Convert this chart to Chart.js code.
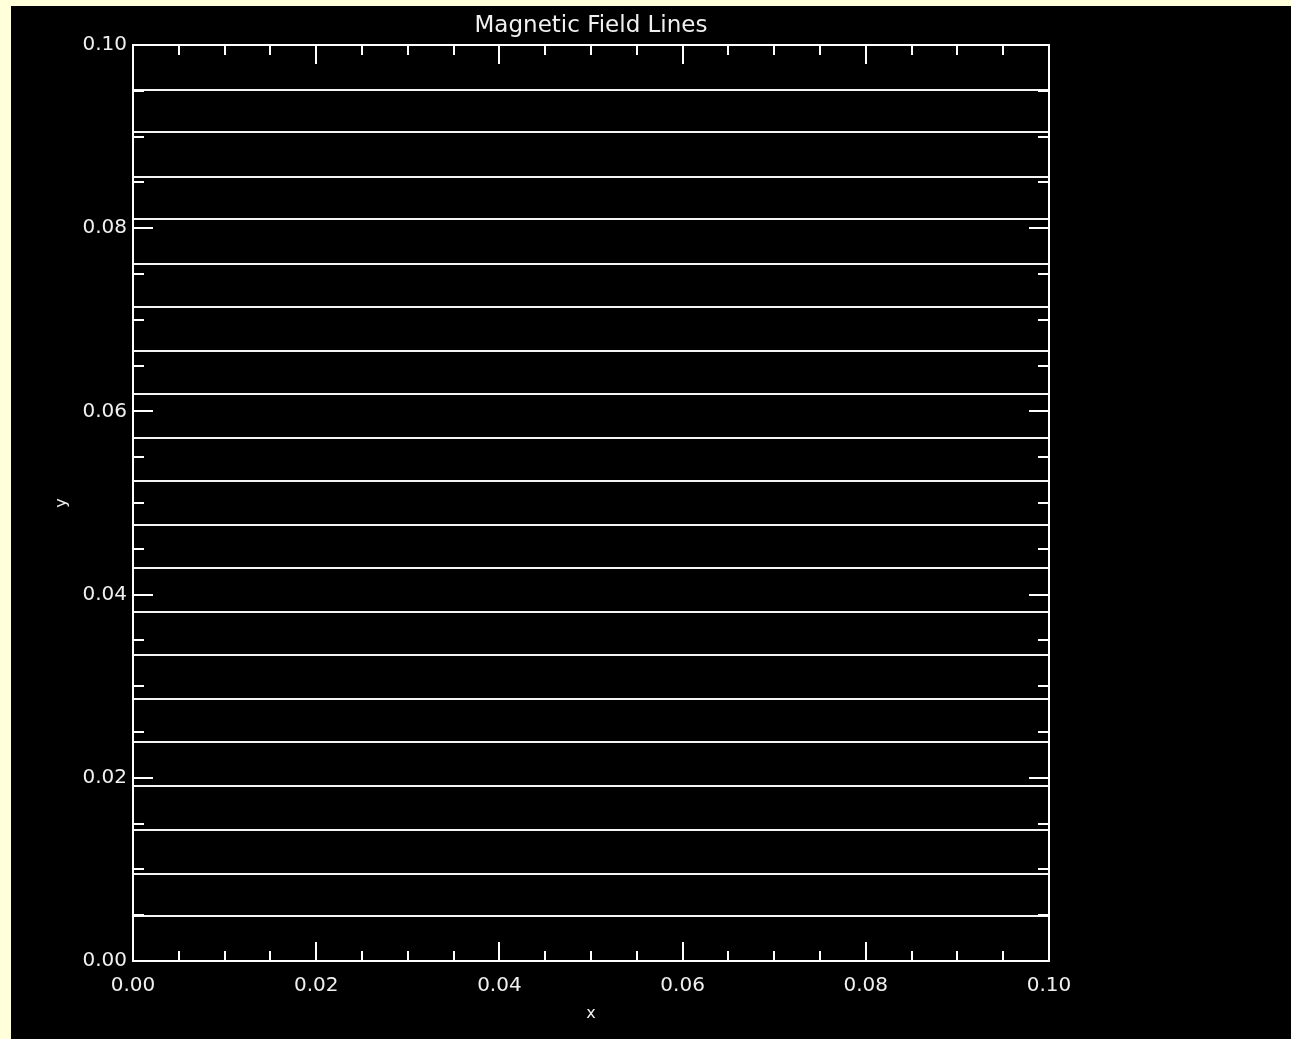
<!DOCTYPE html>
<html>
<head>
<meta charset="utf-8">
<title>Magnetic Field Lines</title>
<script src="https://cdn.jsdelivr.net/npm/chart.js@4.4.1/dist/chart.umd.min.js"></script>
<style>
  html, body { margin: 0; padding: 0; background: #ffffdc; overflow: hidden; }
  #wrap { position: absolute; left: 11px; top: 6px; width: 1280px; height: 1033px; background: #000; }
</style>
</head>
<body>
<div id="wrap"><canvas id="chart"></canvas></div>
<script>
// field line heights (y), each runs across the full x range
const fieldLineY = [
    0.0049, 0.0095, 0.0143, 0.0191, 0.0239, 0.0286, 0.0334, 0.0381, 0.0429, 0.0476,
    0.0524, 0.0571, 0.0619, 0.0666, 0.0714, 0.0761, 0.0810, 0.0856, 0.0905, 0.0951
];
const xRange = [0.0, 0.1];
const yRange = [0.0, 0.1];
const tickStep = 0.005;   // minor ticks
const labelStep = 0.02;   // labelled (major) ticks

const FONT = 'DejaVu Sans';
const isMajor = v => Math.round(v * 1000) % Math.round(labelStep * 1000) === 0;

// IDL style box with ticks pointing inwards
const idlAxes = {
    id: 'idlAxes',
    afterDatasetsDraw(chart) {
        const { ctx, chartArea: a, scales: { x, y } } = chart;
        ctx.save();
        ctx.strokeStyle = '#fff';
        ctx.lineWidth = 2;
        ctx.strokeRect(a.left, a.top, a.right - a.left, a.bottom - a.top);
        ctx.beginPath();
        x.ticks.forEach(t => {
            const px = Math.round(x.getPixelForValue(t.value));
            const len = isMajor(t.value) ? 19 : 10;
            ctx.moveTo(px, a.bottom); ctx.lineTo(px, a.bottom - len);
            ctx.moveTo(px, a.top); ctx.lineTo(px, a.top + len);
        });
        y.ticks.forEach(t => {
            const py = Math.round(y.getPixelForValue(t.value));
            const len = isMajor(t.value) ? 20 : 11;
            ctx.moveTo(a.left, py); ctx.lineTo(a.left + len, py);
            ctx.moveTo(a.right, py); ctx.lineTo(a.right - len, py);
        });
        ctx.stroke();
        ctx.restore();
    }
};

const datasets = fieldLineY.map(v => ({
    data: [{ x: xRange[0], y: v }, { x: xRange[1], y: v }],
    showLine: true,
    borderColor: '#f4f4f4',
    borderWidth: 2,
    pointRadius: 0,
    clip: false
}));

const tickLabel = v => isMajor(v) ? v.toFixed(2) : '';

new Chart(document.getElementById('chart'), {
    type: 'scatter',
    data: { datasets },
    plugins: [idlAxes],
    options: {
        responsive: true,
        maintainAspectRatio: false,
        animation: false,
        layout: { padding: { left: 0, top: 0, right: 242, bottom: 0 } },
        plugins: {
            legend: { display: false },
            tooltip: { enabled: false },
            title: {
                display: true,
                text: 'Magnetic Field Lines',
                color: '#f0f0f0',
                fullSize: false,
                font: { family: FONT, size: 23, weight: 'normal', lineHeight: 1.0 },
                padding: { top: 9, bottom: 7 }
            }
        },
        scales: {
            x: {
                type: 'linear',
                min: xRange[0], max: xRange[1],
                grid: { display: false, drawTicks: false },
                border: { display: false },
                ticks: {
                    stepSize: tickStep, autoSkip: false, maxRotation: 0,
                    color: '#f0f0f0', padding: 13,
                    font: { family: FONT, size: 20 },
                    callback: tickLabel
                },
                title: {
                    display: true, text: 'x', color: '#f0f0f0',
                    font: { family: FONT, size: 16 }, padding: { top: 0, bottom: 16 }
                },
                afterFit(s) { s.height = 78; }
            },
            y: {
                type: 'linear',
                min: yRange[0], max: yRange[1],
                grid: { display: false, drawTicks: false },
                border: { display: false },
                ticks: {
                    stepSize: tickStep, autoSkip: false,
                    color: '#f0f0f0', padding: 6,
                    font: { family: FONT, size: 20 },
                    callback: tickLabel
                },
                title: {
                    display: true, text: 'y', color: '#f0f0f0',
                    font: { family: FONT, size: 16 }, padding: { top: 41, bottom: 0 }
                },
                afterFit(s) { s.width = 122; }
            }
        }
    }
});
</script>
</body>
</html>
